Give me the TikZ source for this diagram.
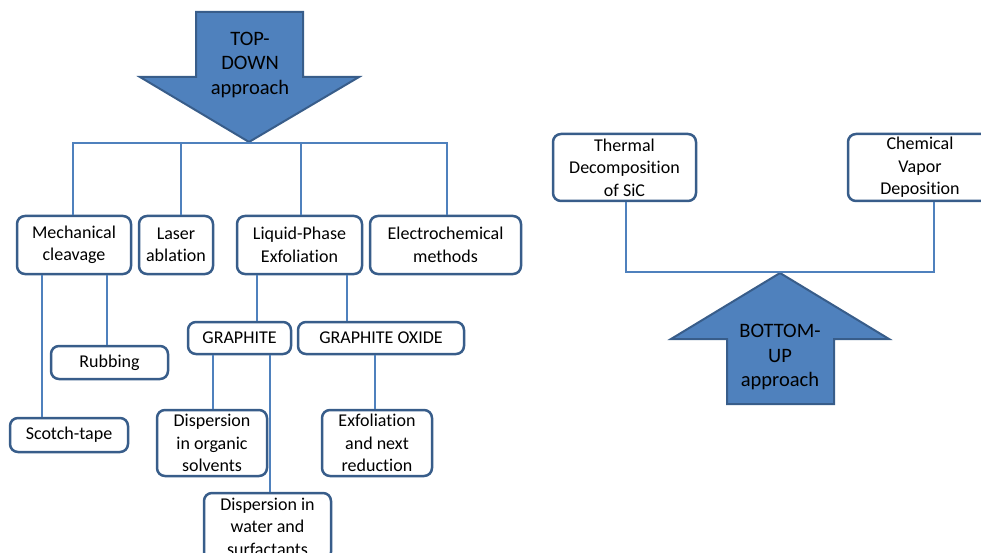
\documentclass[tikz,border=0pt]{standalone}
\usepackage{fontspec}
\setmainfont{Carlito}[Ligatures=NoCommon]
\usepackage{xcolor}
\usetikzlibrary{positioning}
\definecolor{frameblue}{HTML}{385D8A}
\definecolor{lineblue}{HTML}{4F81BD}
\definecolor{fillblue}{HTML}{4F81BD}

\begin{document}
\begin{tikzpicture}[
        x=1pt, y=-1pt,
        font=\fontsize{18}{22.5}\selectfont,
        method/.style={draw=frameblue, line width=2.5pt, rounded corners=8pt, fill=white,
            align=center, inner sep=0pt, minimum height=58pt},
        link/.style={draw=lineblue, line width=1.6pt},
        bigarrow/.style={draw=frameblue, line width=2pt, fill=fillblue, line join=miter},
        arrowtext/.style={align=center, font=\fontsize{20.5}{24.5}\selectfont}
    ]
        \useasboundingbox (0,0) rectangle (981,553);

        % top-down arrow
        \draw[bigarrow] (196,12) -- (303,12) -- (303,77) -- (359,77) -- (249,142)
            -- (140,77) -- (196,77) -- cycle;
        \node[arrowtext] (tdlabel) at (250,65) {TOP-\\DOWN\\approach};
        \coordinate (tdtip) at (249,143);

        % first level
        \node[method, minimum width=114pt] (mech) at (74,245) {Mechanical\\cleavage};
        \node[method, minimum width=74pt] (laser) at (176,245) {Laser\\ablation};
        \node[method, minimum width=125pt] (liquid) at (299.5,245) {Liquid-Phase\\Exfoliation};
        \node[method, minimum width=151pt] (electro) at (445.5,245) {Electrochemical\\methods};

        \draw[link] ([xshift=-1]mech.north) |- (tdtip) -| ([xshift=1.5]electro.north);
        \draw[link] ([xshift=5]laser.north) -- ([xshift=5]laser.north |- tdtip);
        \draw[link] ([xshift=1.5]liquid.north) -- ([xshift=1.5]liquid.north |- tdtip);

        % mechanical cleavage
        \node[method, minimum width=118pt, minimum height=34pt] (scotch) at (69,435) {Scotch-tape};
        \node[method, minimum width=117pt, minimum height=33pt] (rubbing) at (109.5,362.5) {Rubbing};
        \draw[link] ([xshift=-32]mech.south) -- ([xshift=-32]mech.south |- scotch.north);
        \draw[link] ([xshift=33]mech.south) -- ([xshift=33]mech.south |- rubbing.north);

        % liquid-phase exfoliation
        \node[method, minimum width=103pt, minimum height=32pt] (graphite) at (239.5,338) {GRAPHITE};
        \node[method, minimum width=166pt, minimum height=32pt] (oxide) at (381,338) {GRAPHITE OXIDE};
        \draw[link] ([xshift=-42.5]liquid.south) -- ([xshift=-42.5]liquid.south |- graphite.north);
        \draw[link] ([xshift=47.5]liquid.south) -- ([xshift=47.5]liquid.south |- oxide.north);

        \node[method, minimum width=110pt, minimum height=66pt] (organic) at (212,443)
            {Dispersion\\in organic\\solvents};
        \node[method, minimum width=127pt, minimum height=67pt] (water) at (267.5,526.5)
            {Dispersion in\\water and\\surfactants};
        \node[method, minimum width=110pt, minimum height=66pt] (exfol) at (377,443)
            {Exfoliation\\and next\\reduction};
        \draw[link] ([xshift=-26.5]graphite.south) -- ([xshift=-26.5]graphite.south |- organic.north);
        \draw[link] ([xshift=30.5]graphite.south) -- ([xshift=30.5]graphite.south |- water.north);
        \draw[link] ([xshift=-2]exfol.north) -- ([xshift=-2]exfol.north |- oxide.south);

        % bottom-up arrow
        \draw[bigarrow] (727,404) -- (834,404) -- (834,339) -- (889,339) -- (780,273)
            -- (671,339) -- (727,339) -- cycle;
        \node[arrowtext] (bulabel) at (780,357) {BOTTOM-\\UP\\approach};
        \coordinate (butip) at (780,272);

        \node[method, minimum width=143pt, minimum height=67pt] (thermal) at (624.5,167.5)
            {Thermal\\Decomposition\\of SiC};
        \node[method, minimum width=144pt, minimum height=67pt] (cvd) at (920,167.5)
            {Chemical\\Vapor\\Deposition};
        \draw[link] ([xshift=1.5]thermal.south) |- (butip) -| ([xshift=14]cvd.south);
    \end{tikzpicture}
\end{document}
